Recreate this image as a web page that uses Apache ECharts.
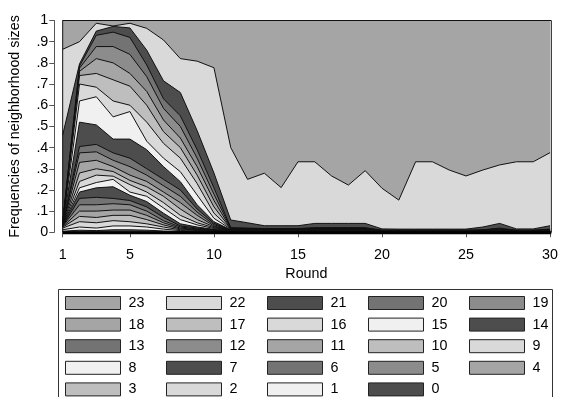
<!DOCTYPE html>
<html><head><meta charset="utf-8">
<script src="https://cdn.jsdelivr.net/npm/echarts@6/dist/echarts.min.js"></script>
<style>html,body{margin:0;padding:0;background:#fff}#c{width:561px;height:397px}</style>
</head><body><div id="c"></div>
<script>
// Rounds (x) and cumulative shares: cK = share of neighbourhoods with size <= K
const rounds = [1,2,3,4,5,6,7,8,9,10,11,12,13,14,15,16,17,18,19,20,21,22,23,24,25,26,27,28,29,30];
const xTicks = [1,5,10,15,20,25,30];
const yTicks = [0,.1,.2,.3,.4,.5,.6,.7,.8,.9,1];
const c23 = [1,1,1,1,1,1,1,1,1,1,1,1,1,1,1,1,1,1,1,1,1,1,1,1,1,1,1,1,1,1];
const c22 = [.864,.900,.987,.974,.987,.963,.908,.820,.808,.777,.400,.250,.279,.211,.333,.333,.266,.223,.291,.208,.152,.333,.333,.294,.266,.294,.318,.333,.333,.376];
const c21 = [.46,.795,.95,.972,.965,.86,.715,.66,.48,.28,.058,.045,.031,.031,.031,.042,.042,.042,.042,.016,.015,.015,.015,.015,.015,.025,.042,.016,.016,.031];
const c20 = [.05,.785,.93,.945,.92,.79,.63,.55,.39,.21,.022,.02,.018,.018,.018,.022,.022,.022,.022,.01,.01,.01,.01,.01,.01,.012,.02,.01,.01,.015];
const c19 = [.048,.775,.877,.877,.84,.735,.585,.50,.35,.18,.02,.018,.016,.016,.016,.02,.02,.02,.02,.009,.009,.009,.009,.009,.009,.011,.017,.009,.009,.013];
const c18 = [.046,.76,.82,.80,.75,.665,.53,.445,.31,.15,.018,.016,.015,.015,.015,.018,.018,.018,.018,.008,.008,.008,.008,.008,.008,.010,.015,.008,.008,.012];
const c17 = [.044,.74,.75,.72,.69,.60,.475,.40,.27,.12,.017,.015,.014,.014,.014,.016,.016,.016,.016,.008,.008,.008,.008,.008,.008,.009,.013,.008,.008,.011];
const c16 = [.042,.70,.685,.62,.60,.52,.42,.35,.23,.09,.016,.014,.013,.013,.013,.015,.015,.015,.015,.007,.007,.007,.007,.007,.007,.009,.012,.007,.007,.010];
const c15 = [.040,.62,.64,.545,.57,.43,.35,.286,.176,.066,.015,.013,.012,.012,.012,.014,.014,.014,.014,.007,.007,.007,.007,.007,.007,.008,.011,.007,.007,.009];
const c14 = [.038,.52,.507,.44,.44,.39,.31,.239,.13,.05,.012,.010,.009,.009,.009,.011,.011,.011,.011,.005,.005,.005,.005,.005,.005,.006,.008,.005,.005,.007];
const c13 = [.036,.405,.415,.375,.35,.30,.25,.20,.11,.042,.011,.009,.008,.008,.008,.010,.010,.010,.010,.005,.005,.005,.005,.005,.005,.006,.008,.005,.005,.006];
const c12 = [.035,.375,.38,.34,.31,.27,.22,.17,.095,.036,.010,.009,.008,.008,.008,.009,.009,.009,.009,.004,.004,.004,.004,.004,.004,.005,.007,.004,.004,.006];
const c11 = [.034,.33,.34,.31,.27,.24,.19,.14,.08,.03,.009,.008,.007,.007,.007,.009,.009,.009,.009,.004,.004,.004,.004,.004,.004,.005,.007,.004,.004,.005];
const c10 = [.033,.28,.30,.287,.245,.215,.17,.11,.06,.026,.008,.008,.007,.007,.007,.008,.008,.008,.008,.004,.004,.004,.004,.004,.004,.004,.006,.004,.004,.005];
const c9  = [.032,.24,.27,.265,.225,.19,.14,.08,.045,.022,.007,.007,.006,.006,.006,.008,.008,.008,.008,.003,.003,.003,.003,.003,.003,.004,.006,.003,.003,.004];
const c8  = [.031,.21,.235,.25,.19,.17,.115,.06,.035,.018,.006,.007,.006,.006,.006,.007,.007,.007,.007,.003,.003,.003,.003,.003,.003,.004,.005,.003,.003,.004];
const c7  = [.030,.19,.21,.215,.175,.145,.09,.04,.025,.014,.005,.004,.004,.004,.004,.004,.004,.004,.004,.002,.002,.002,.002,.002,.002,.002,.003,.002,.002,.002];
const c6  = [.029,.16,.165,.16,.15,.12,.07,.03,.02,.012,.004,.004,.003,.003,.003,.004,.004,.004,.004,.002,.002,.002,.002,.002,.002,.002,.003,.002,.002,.002];
const c5  = [.028,.13,.13,.135,.13,.10,.055,.025,.016,.01,.003,.003,.003,.003,.003,.003,.003,.003,.003,.002,.002,.002,.002,.002,.002,.002,.003,.002,.002,.002];
const c4  = [.026,.10,.10,.105,.105,.08,.045,.02,.013,.009,.002,.003,.003,.003,.003,.003,.003,.003,.003,.002,.002,.002,.002,.002,.002,.002,.002,.002,.002,.002];
const c3  = [.024,.075,.07,.08,.08,.06,.035,.016,.011,.008,.002,.003,.002,.002,.002,.002,.002,.002,.002,.001,.001,.001,.001,.001,.001,.001,.002,.001,.001,.001];
const c2  = [.02,.05,.045,.055,.05,.04,.025,.012,.009,.006,.001,.002,.002,.002,.002,.002,.002,.002,.002,.001,.001,.001,.001,.001,.001,.001,.002,.001,.001,.001];
const c1  = [.012,.025,.02,.03,.03,.025,.015,.008,.006,.004,.001,.002,.001,.001,.001,.001,.001,.001,.001,.001,.001,.001,.001,.001,.001,.001,.001,.001,.001,.001];
const c0  = [.005,.01,.008,.012,.012,.01,.006,.004,.003,.002,0,0,0,0,0,0,0,0,0,0,0,0,0,0,0,0,0,0,0,0];
const sizeLabels = ['23','22','21','20','19','18','17','16','15','14','13','12','11','10','9','8','7','6','5','4','3','2','1','0'];
const cumData = [c23,c22,c21,c20,c19,c18,c17,c16,c15,c14,c13,c12,c11,c10,c9,c8,c7,c6,c5,c4,c3,c2,c1,c0];

// grey fills by size
const fillOf = {'23':'#a5a5a5','22':'#d9d9d9'};
const cycle = ['#4d4d4d','#f0f0f0','#d9d9d9','#bebebe','#a5a5a5','#8c8c8c','#737373'];
function fill(label){ return fillOf[label] || cycle[(+label) % 7]; }

const FONT = '"Liberation Sans", Arial, Helvetica, sans-serif';
const FS = 14.3;
const series = sizeLabels.map((lab, i) => ({
  name: lab, type: 'line', symbol: 'none', silent: true,
  data: rounds.map((r, j) => [r, cumData[i][j]]),
  lineStyle: {color: '#111', width: 1},
  itemStyle: {color: fill(lab)},
  areaStyle: {color: fill(lab), opacity: 1, origin: 'start'},
  z: 2
}));

// legend: 5 columns
const cols = [[],[],[],[],[]];
sizeLabels.forEach((l, i) => cols[i % 5].push(l));
const colLeft = [65, 166, 267, 368, 469];
const legends = cols.map((names, ci) => ({
  orient: 'vertical', left: colLeft[ci], top: 296, padding: 0,
  itemWidth: 55, itemHeight: 13, itemGap: 7.6, icon: 'rect',
  selectedMode: false,
  textStyle: {fontFamily: FONT, fontSize: FS, color: '#000', lineHeight: 13, padding: [0,0,0,3]},
  data: names.map(n => ({name: n, itemStyle: {color: fill(n), borderColor: '#222', borderWidth: 1}}))
}));

const chart = echarts.init(document.getElementById('c'), null, {renderer: 'canvas'});
chart.setOption({
  animation: false,
  backgroundColor: '#fff',
  grid: {left: 62.7, right: 9.7, top: 20.5, bottom: 164.7, containLabel: false},
  xAxis: {
    type: 'value', min: 1, max: 30, offset: 8.4,
    name: 'Round', nameLocation: 'middle', nameGap: 22,
    nameTextStyle: {fontFamily: FONT, fontSize: FS, color: '#000'},
    axisLine: {show: true, lineStyle: {color: '#555', width: 1}},
    axisTick: {show: true, length: 5, lineStyle: {color: '#555'}, customValues: xTicks},
    axisLabel: {fontFamily: FONT, fontSize: FS, color: '#000', margin: 7, customValues: xTicks},
    splitLine: {show: false}
  },
  yAxis: {
    type: 'value', min: 0, max: 1, offset: 8.4,
    name: 'Frequencies of neighborhood sizes', nameLocation: 'middle', nameGap: 32,
    nameTextStyle: {fontFamily: FONT, fontSize: FS, color: '#000'},
    axisLine: {show: true, lineStyle: {color: '#555', width: 1}},
    axisTick: {show: true, length: 5, lineStyle: {color: '#555'}, customValues: yTicks},
    axisLabel: {fontFamily: FONT, fontSize: FS, color: '#000', margin: 6, customValues: yTicks,
      formatter: v => v <= 0 ? '0' : (v >= 1 ? '1' : '.' + Math.round(v * 10))},
    splitLine: {show: false}
  },
  legend: legends,
  graphic: [
    {type: 'rect', shape: {x: 62.7, y: 20.5, width: 488.6, height: 211.8}, style: {fill: 'none', stroke: '#111', lineWidth: 1}, z: 100, silent: true},
    {type: 'line', shape: {x1: 62.7, y1: 232.8, x2: 551.3, y2: 232.8}, style: {stroke: '#000', lineWidth: 3}, z: 100, silent: true},
    {type: 'rect', shape: {x: 58.5, y: 289.5, width: 494, height: 130}, style: {fill: 'none', stroke: '#333', lineWidth: 1}, z: 100, silent: true}
  ],
  series: series
});
</script></body></html>
